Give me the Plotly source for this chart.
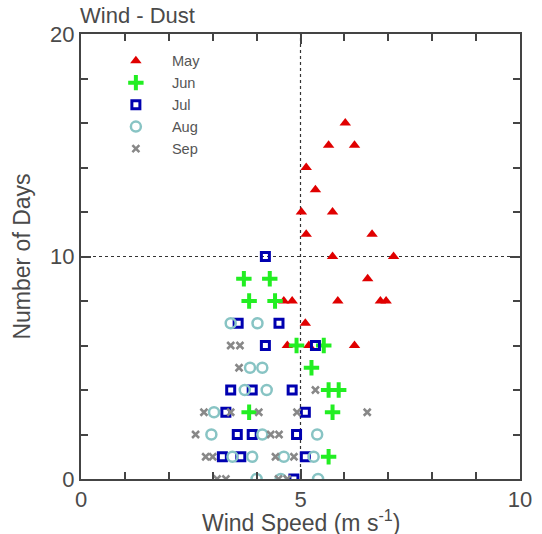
import plotly.graph_objects as go

# Wind speed (m s-1) vs number of days, per month
may_x = [4.70, 5.19, 6.23, 5.11, 4.62, 4.81, 5.85, 6.82, 6.95, 6.53, 5.73, 7.12, 5.13, 6.63, 5.02, 5.73, 5.34, 5.13, 5.64, 6.23, 6.02]
may_y = [6, 6, 6, 7, 8, 8, 8, 8, 8, 9, 10, 10, 11, 11, 12, 12, 13, 14, 15, 15, 16]

jun_x = [5.64, 3.83, 5.73, 5.64, 5.87, 5.25, 4.91, 5.53, 3.83, 4.42, 3.71, 4.30]
jun_y = [1, 3, 3, 4, 4, 5, 6, 6, 8, 8, 9, 9]

jul_x = [4.85, 3.22, 3.64, 5.11, 3.56, 3.90, 4.91, 3.30, 5.11, 3.41, 3.90, 4.81, 4.20, 5.34, 3.58, 4.51, 4.20]
jul_y = [0, 1, 1, 1, 2, 2, 2, 3, 3, 4, 4, 4, 6, 6, 7, 7, 10]

aug_x = [4.0, 4.55, 5.4, 3.45, 3.90, 4.62, 5.30, 2.97, 4.13, 5.38, 3.03, 3.73, 4.23, 3.85, 4.13, 3.41, 4.02]
aug_y = [0, 0, 0, 1, 1, 1, 1, 2, 2, 2, 3, 4, 4, 5, 5, 7, 7]

sep_x = [3.1, 3.3, 4.5, 4.7, 2.84, 3.0, 4.43, 4.85, 2.61, 4.32, 4.51, 2.80, 3.41, 4.05, 4.92, 6.52, 5.34, 3.60, 3.41, 3.62]
sep_y = [0, 0, 0, 0, 1, 1, 1, 1, 2, 2, 2, 3, 3, 3, 3, 3, 4, 5, 6, 6]

x_title = "Wind Speed (m s<sup>-1</sup>)"
y_title = "Number of Days"
chart_title = "Wind - Dust"

FONT = "Liberation Sans, Arial"
TXT = "#4a4a4a"

fig = go.Figure()

fig.add_trace(go.Scatter(x=may_x, y=may_y, mode="markers", name="May",
                         marker=dict(symbol="triangle-up", size=10, color="#e00000")))
fig.add_trace(go.Scatter(x=jun_x, y=jun_y, mode="markers", name="Jun",
                         marker=dict(symbol="cross-thin-open", size=11, color="#22ee22",
                                     line=dict(width=4, color="#22ee22"))))
fig.add_trace(go.Scatter(x=jul_x, y=jul_y, mode="markers", name="Jul",
                         marker=dict(symbol="square-open", size=8, color="#0000b0",
                                     line=dict(width=3, color="#0000b0"))))
fig.add_trace(go.Scatter(x=aug_x, y=aug_y, mode="markers", name="Aug",
                         marker=dict(symbol="circle-open", size=10, color="#88c4c4",
                                     line=dict(width=2.5, color="#88c4c4"))))
fig.add_trace(go.Scatter(x=sep_x, y=sep_y, mode="markers", name="Sep",
                         marker=dict(symbol="x-thin-open", size=7, color="#888888",
                                     line=dict(width=2.5, color="#888888"))))

# dotted reference lines
fig.add_shape(type="line", x0=5, x1=5, y0=0, y1=20, xref="x", yref="y",
              line=dict(color="#333333", width=1.2, dash="dot"), layer="below")
fig.add_shape(type="line", x0=0, x1=10, y0=10, y1=10, xref="x", yref="y",
              line=dict(color="#333333", width=1.2, dash="dot"), layer="below")

axis_common = dict(showgrid=False, zeroline=False, showline=True, linecolor="#444444",
                   linewidth=2, mirror="allticks", ticks="inside", tickcolor="#444444",
                   tickwidth=2, tickfont=dict(family=FONT, size=22, color=TXT))

fig.update_xaxes(range=[0, 10], dtick=5, ticklen=10,
                 minor=dict(dtick=1, ticks="inside", ticklen=7, tickcolor="#444444", tickwidth=2),
                 **axis_common)
fig.update_yaxes(range=[0, 20], dtick=10, ticklen=10,
                 minor=dict(dtick=2, ticks="inside", ticklen=7, tickcolor="#444444", tickwidth=2),
                 title=dict(text=y_title, standoff=13,
                            font=dict(family=FONT, size=23, color=TXT)),
                 **axis_common)

# x-axis title placed as annotation so it can sit low like the reference
fig.add_annotation(text=x_title, xref="paper", yref="paper", x=0.5, y=-(521 - 479) / 445,
                   xanchor="center", yanchor="middle", showarrow=False,
                   font=dict(family=FONT, size=23, color=TXT))

fig.update_layout(
    width=542, height=534,
    margin=dict(l=81, r=22, t=34, b=55, autoexpand=False),
    paper_bgcolor="white", plot_bgcolor="white",
    title=dict(text=chart_title, x=80/542, xanchor="left", y=1-15/534, yanchor="middle",
               font=dict(family=FONT, size=22, color=TXT)),
    legend=dict(x=0.043, y=0.976, xanchor="left", yanchor="top", bgcolor="rgba(0,0,0,0)",
                font=dict(family=FONT, size=14.6, color="#555555"),
                itemwidth=62),
    showlegend=True,
)

fig.write_html("out.html")
